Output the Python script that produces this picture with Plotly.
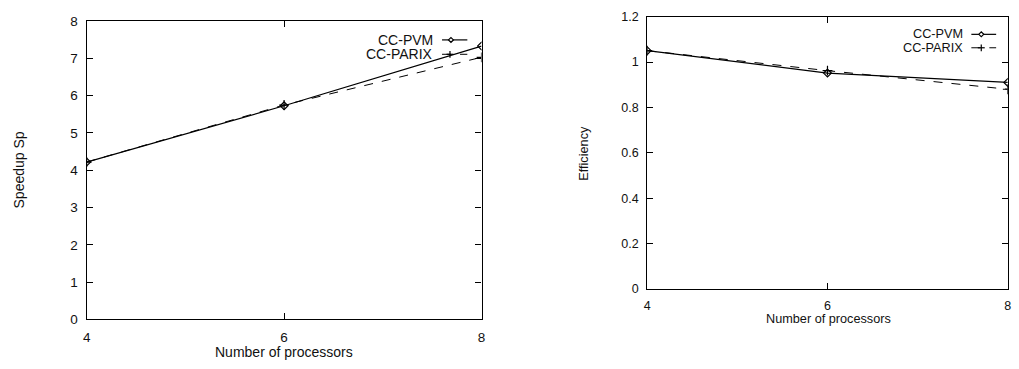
import plotly.graph_objects as go

processors = [4, 6, 8]
speedup_pvm = [4.22, 5.73, 7.33]
speedup_parix = [4.22, 5.75, 7.03]
eff_pvm = [1.05, 0.951, 0.910]
eff_parix = [1.05, 0.962, 0.880]
series_names = ["CC-PVM", "CC-PARIX"]
speed_ticks = [0, 1, 2, 3, 4, 5, 6, 7, 8]
eff_ticks = [0, 0.2, 0.4, 0.6, 0.8, 1, 1.2]
eff_ticklabels = ["0", "0.2", "0.4", "0.6", "0.8", "1", "1.2"]

W, H = 1019, 369
FONT = "Liberation Sans, Arial, sans-serif"
INK = "#111"

def px(x):
    return x / W

def py(y):
    return 1 - y / H

fig = go.Figure()

# left: speedup
fig.add_trace(go.Scatter(x=processors, y=speedup_pvm, mode="lines+markers", name=series_names[0],
                         line=dict(color="black", width=1.2),
                         marker=dict(symbol="diamond-open", size=6, color="black", line=dict(width=1.2)),
                         xaxis="x", yaxis="y", showlegend=False))
fig.add_trace(go.Scatter(x=processors, y=speedup_parix, mode="lines+markers", name=series_names[1],
                         line=dict(color="black", width=1, dash="dash"),
                         marker=dict(symbol="cross-thin-open", size=7, color="black", line=dict(width=1.2, color="black")),
                         xaxis="x", yaxis="y", showlegend=False))
# right: efficiency
fig.add_trace(go.Scatter(x=processors, y=eff_pvm, mode="lines+markers", name=series_names[0],
                         line=dict(color="black", width=1.2),
                         marker=dict(symbol="diamond-open", size=6, color="black", line=dict(width=1.2)),
                         xaxis="x2", yaxis="y2", showlegend=False))
fig.add_trace(go.Scatter(x=processors, y=eff_parix, mode="lines+markers", name=series_names[1],
                         line=dict(color="black", width=1, dash="dash"),
                         marker=dict(symbol="cross-thin-open", size=7, color="black", line=dict(width=1.2, color="black")),
                         xaxis="x2", yaxis="y2", showlegend=False))

ax_common = dict(showline=True, linecolor="black", linewidth=1.2, mirror="allticks",
                 ticks="inside", ticklen=6, tickcolor="black", showgrid=False, zeroline=False,
                 fixedrange=True)

fig.update_layout(
    width=W, height=H,
    margin=dict(l=0, r=0, t=0, b=0),
    paper_bgcolor="white", plot_bgcolor="white",
    showlegend=False,
    xaxis=dict(domain=[px(83.3), px(481.3)], range=[4, 8], tickvals=processors, ticklabelstandoff=5,
               tickfont=dict(family=FONT, size=13.5, color=INK), anchor="y", **ax_common),
    yaxis=dict(domain=[py(325.7), py(14.7)], range=[0, 8], tickvals=speed_ticks, ticklabelstandoff=5,
               tickfont=dict(family=FONT, size=13.5, color=INK), anchor="x", **ax_common),
    xaxis2=dict(domain=[px(648.3), px(1011.7)], range=[4, 8], tickvals=processors, ticklabelstandoff=5,
                tickfont=dict(family=FONT, size=12.5, color=INK), anchor="y2", **ax_common),
    yaxis2=dict(domain=[py(294), py(10)], range=[0, 1.2], tickvals=eff_ticks, ticktext=eff_ticklabels,
                ticklabelstandoff=5,
                tickfont=dict(family=FONT, size=12.5, color=INK), anchor="x2", **ax_common),
)

annotations = [
    dict(text="Number of processors", x=px(282), y=py(360), xref="paper", yref="paper", borderpad=0,
         showarrow=False, font=dict(family=FONT, size=14, color=INK), xanchor="center", yanchor="middle"),
    dict(text="Speedup Sp", x=px(15.5), y=py(170), xref="paper", yref="paper", textangle=-90,
         showarrow=False, font=dict(family=FONT, size=14, color=INK), xanchor="center", yanchor="middle"),
    dict(text="Number of processors", x=px(831), y=py(325.5), xref="paper", yref="paper", borderpad=0,
         showarrow=False, font=dict(family=FONT, size=12.7, color=INK), xanchor="center", yanchor="middle"),
    dict(text="Efficiency", x=px(584.5), y=py(152), xref="paper", yref="paper", textangle=-90,
         showarrow=False, font=dict(family=FONT, size=12.7, color=INK), xanchor="center", yanchor="middle"),
]

shapes = []

def legend_entry(name, text_right, yc, x0, x1, mx, solid, marker, size, fsize):
    annotations.append(dict(text=name, x=px(text_right), y=py(yc), xref="paper", yref="paper",
                            showarrow=False, xanchor="right", yanchor="middle",
                            font=dict(family=FONT, size=fsize, color=INK)))
    shapes.append(dict(type="line", xref="paper", yref="paper", x0=px(x0), x1=px(x1), y0=py(yc), y1=py(yc),
                       line=dict(color="black", width=1.2 if solid else 1, dash="solid" if solid else "dash")))
    s = size / 2
    if marker == "diamond":
        path = (f"M {px(mx - s)} {py(yc)} L {px(mx)} {py(yc - s)} L {px(mx + s)} {py(yc)} "
                f"L {px(mx)} {py(yc + s)} Z")
        shapes.append(dict(type="path", xref="paper", yref="paper", path=path,
                           line=dict(color="black", width=1.2), fillcolor="white"))
    else:
        shapes.append(dict(type="line", xref="paper", yref="paper", x0=px(mx - s), x1=px(mx + s),
                           y0=py(yc), y1=py(yc), line=dict(color="black", width=1.2)))
        shapes.append(dict(type="line", xref="paper", yref="paper", x0=px(mx), x1=px(mx),
                           y0=py(yc - s), y1=py(yc + s), line=dict(color="black", width=1.2)))

# left legend
legend_entry(series_names[0], 434, 34.3, 441.5, 467, 450.5, True, "diamond", 5, 14)
legend_entry(series_names[1], 434, 49.3, 441.5, 467, 449.5, False, "plus", 7, 14)
# right legend
legend_entry(series_names[0], 969, 28.5, 975, 1000, 985, True, "diamond", 5, 12.7)
legend_entry(series_names[1], 969, 42.5, 975, 1000, 985, False, "plus", 7, 12.7)

fig.update_layout(annotations=annotations, shapes=shapes)

fig.write_html("out.html")
